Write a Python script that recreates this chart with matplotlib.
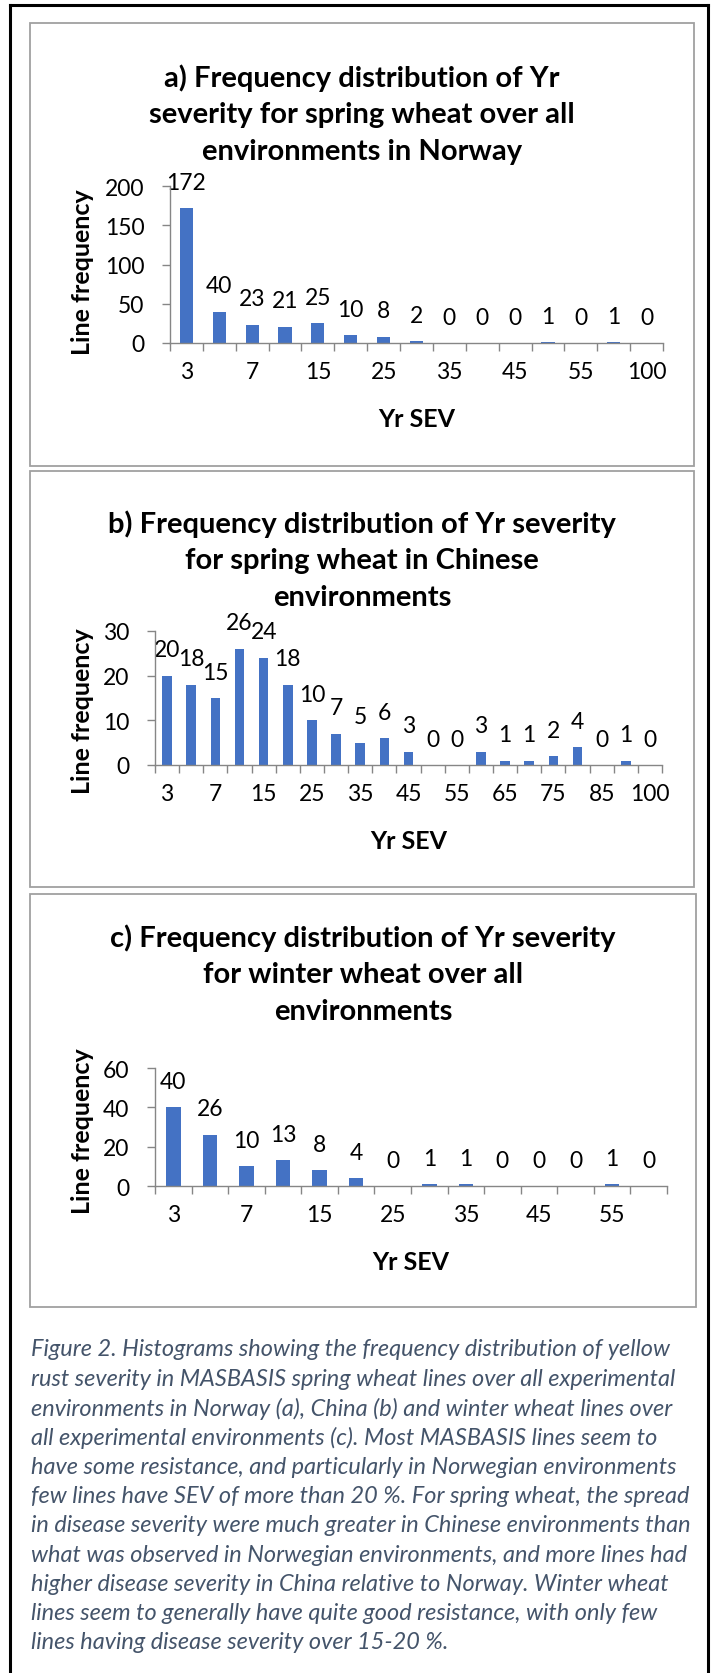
import matplotlib
matplotlib.use('Agg')
import matplotlib.pyplot as plt
import numpy as np
from matplotlib.patches import Rectangle
from matplotlib.lines import Line2D

W, H = 711, 1674

# Yr SEV classes and line counts per panel
sev_a = ['3', '5', '7', '10', '15', '20', '25', '30', '35', '40', '45', '50', '55', '60', '100']
freq_a = [172, 40, 23, 21, 25, 10, 8, 2, 0, 0, 0, 1, 0, 1, 0]

sev_b = ['3', '5', '7', '10', '15', '20', '25', '30', '35', '40', '45', '50', '55', '60',
         '65', '70', '75', '80', '85', '90', '100']
freq_b = [20, 18, 15, 26, 24, 18, 10, 7, 5, 6, 3, 0, 0, 3, 1, 1, 2, 4, 0, 1, 0]

sev_c = ['3', '5', '7', '10', '15', '20', '25', '30', '35', '40', '45', '50', '55', '60']
freq_c = [40, 26, 10, 13, 8, 4, 0, 1, 1, 0, 0, 0, 1, 0]

yticks_a = [0, 50, 100, 150, 200]
yticks_b = [0, 10, 20, 30]
yticks_c = [0, 20, 40, 60]

title_a = ['a) Frequency distribution of Yr', 'severity for spring wheat over all',
           'environments in Norway']
title_b = ['b) Frequency distribution of Yr severity', 'for spring wheat in Chinese',
           'environments']
title_c = ['c) Frequency distribution of Yr severity', 'for winter wheat over all',
           'environments']

caption = [
    'Figure 2. Histograms showing the frequency distribution of yellow',
    'rust severity in MASBASIS spring wheat lines over all experimental',
    'environments in Norway (a), China (b) and winter wheat lines over',
    'all experimental environments (c). Most MASBASIS lines seem to',
    'have some resistance, and particularly in Norwegian environments',
    'few lines have SEV of more than 20 %. For spring wheat, the spread',
    'in disease severity were much greater in Chinese environments than',
    'what was observed in Norwegian environments, and more lines had',
    'higher disease severity in China relative to Norway. Winter wheat',
    'lines seem to generally have quite good resistance, with only few',
    'lines having disease severity over 15-20 %.',
]

BAR = '#4472C4'
AXIS = '#868686'
FONT = ['Lato', 'DejaVu Sans']

plt.rcParams['font.family'] = FONT

fig = plt.figure(figsize=(W / 100, H / 100), dpi=100)


def fx(x):
    return x / W


def fy(y):
    return 1 - y / H


# outer frame (left, top, right)
for xs, ys in [([10, 10], [1674, 6]), ([10, 708], [6, 6]), ([708, 708], [6, 1674])]:
    fig.add_artist(Line2D([fx(v) for v in xs], [fy(v) for v in ys],
                          color='black', lw=2.2, transform=fig.transFigure))


def panel(box, axpos, title, title_y, cats, vals, yticks, ylab_y, xlab_y):
    bx0, by0, bx1, by1 = box
    fig.add_artist(Rectangle((fx(bx0), fy(by1)), (bx1 - bx0) / W, (by1 - by0) / H,
                             fill=False, edgecolor='#A0A0A0', lw=1.3,
                             transform=fig.transFigure))
    cx = (bx0 + bx1) / 2
    for i, line in enumerate(title):
        fig.text(fx(cx), fy(title_y + i * 37), line, ha='center', va='center',
                 fontsize=21, fontweight='bold')

    x0, x1, yt, yb = axpos
    ax = fig.add_axes([fx(x0), fy(yb), (x1 - x0) / W, (yb - yt) / H])
    n = len(vals)
    pos = np.arange(n)
    bars = ax.bar(pos, vals, width=0.4, color=BAR, zorder=2)
    for b, v in zip(bars, vals):
        ax.annotate(str(v), (b.get_x() + b.get_width() / 2, v),
                    xytext=(0, 18.7), textcoords='offset points',
                    ha='center', va='center', fontsize=16.5, annotation_clip=False)

    ax.set_xlim(-0.5, n - 0.5)
    ax.set_ylim(yticks[0], yticks[-1])
    ax.set_yticks(yticks)
    ax.tick_params(axis='y', direction='out', length=6, width=1, color=AXIS,
                   labelsize=16.5, pad=12.5)

    # category boundaries get tick marks, every second class gets a label
    ax.set_xticks(np.arange(n + 1) - 0.5)
    ax.tick_params(axis='x', which='major', direction='out', length=6, width=1,
                   color=AXIS, labelbottom=False)
    ax.set_xticks(pos[::2], minor=True)
    ax.set_xticklabels(cats[::2], minor=True)
    ax.tick_params(axis='x', which='minor', length=0, labelsize=16.5, pad=13)

    for s in ['top', 'right']:
        ax.spines[s].set_visible(False)
    for s in ['left', 'bottom']:
        ax.spines[s].set_color(AXIS)
        ax.spines[s].set_linewidth(1)
        ax.spines[s].set_zorder(3)
    ax.patch.set_alpha(0)

    fig.text(fx(83), fy(ylab_y), 'Line frequency', rotation=90, ha='center',
             va='center', fontsize=18, fontweight='bold')
    fig.text(fx((x0 + x1) / 2), fy(xlab_y), 'Yr SEV', ha='center', va='center',
             fontsize=18, fontweight='bold')
    return ax


panel((30, 23.5, 694, 467), (170, 663, 187, 344), title_a, 78,
      sev_a, freq_a, yticks_a, 272, 420)
panel((30, 472, 694, 888), (155, 662, 632, 766), title_b, 524,
      sev_b, freq_b, yticks_b, 711, 842)
panel((30, 895, 696, 1308), (155, 667, 1069, 1187), title_c, 938,
      sev_c, freq_c, yticks_c, 1131, 1263)

for i, line in enumerate(caption):
    fig.text(fx(31), fy(1350 + i * 29.3), line, ha='left', va='center',
             fontsize=16.9, style='italic', color='#44546A')

fig.savefig('out.png', dpi=100)
